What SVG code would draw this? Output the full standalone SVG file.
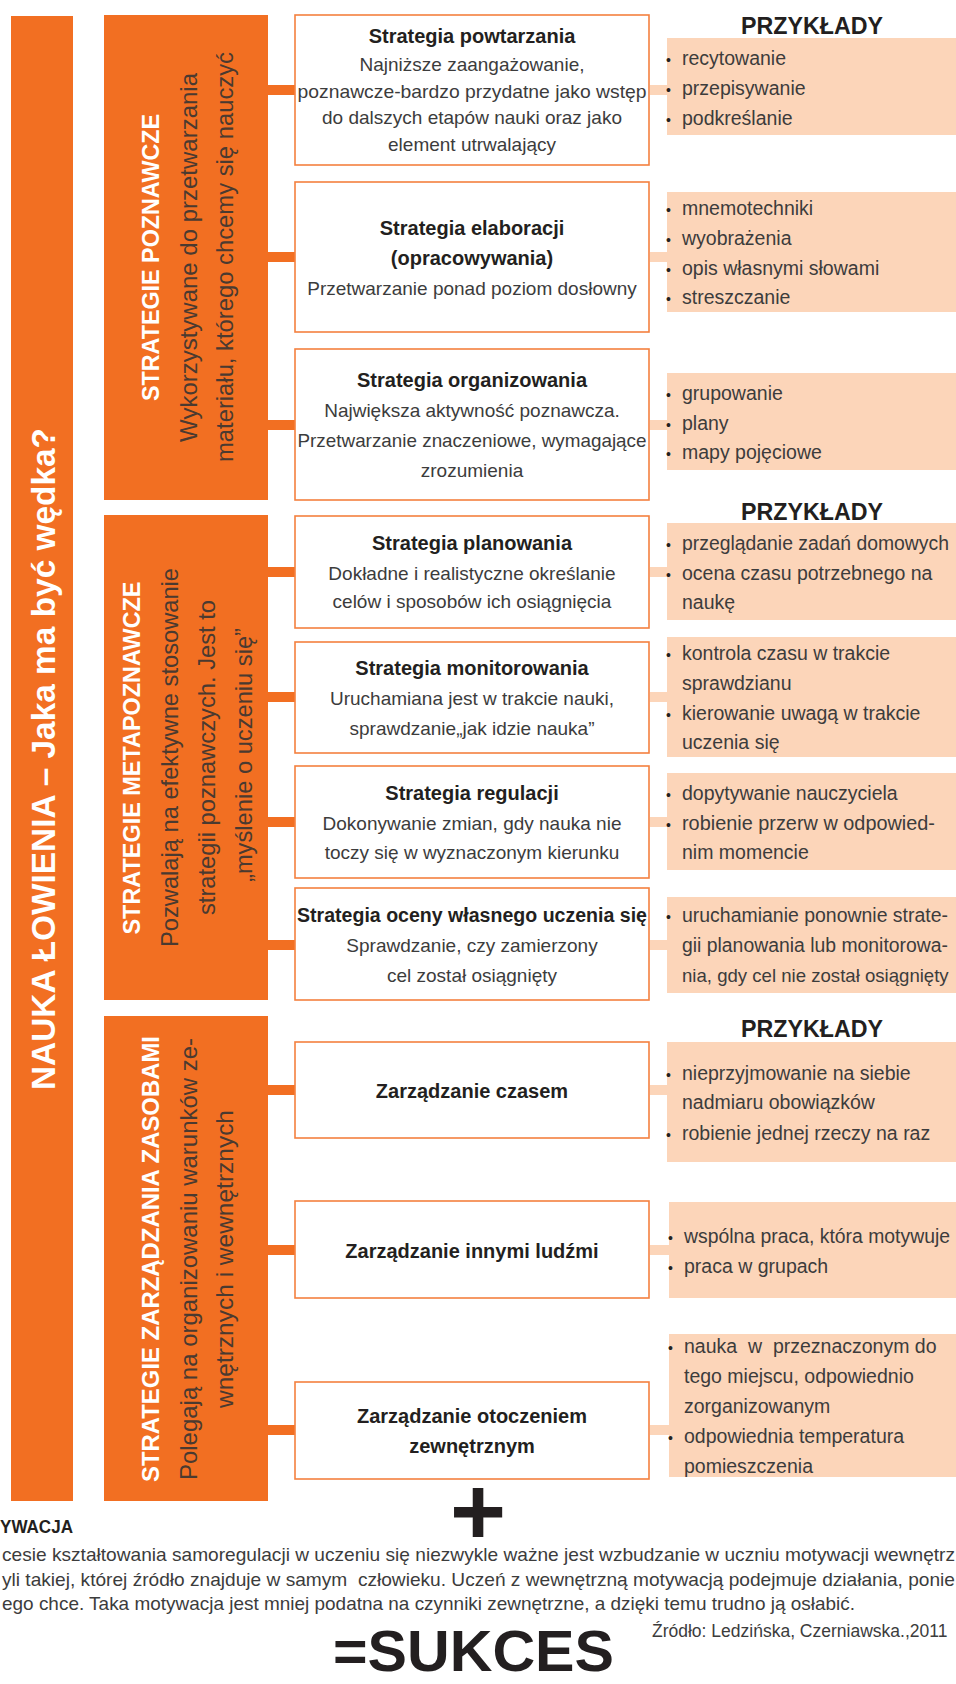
<svg xmlns="http://www.w3.org/2000/svg" width="956" height="1684" viewBox="0 0 956 1684">
<style>
text{font-family:"Liberation Sans",Arial,sans-serif}
.cat{fill:#F26F22}
.node rect{fill:#fff;stroke:#F4803F;stroke-width:1.6}
.ex{fill:#FCD5B9}
.dk{fill:#F26F22}
.lt{fill:#FCD5B9}
.t{font-weight:bold;font-size:20px;fill:#231F20;text-anchor:middle}
.b{font-size:19px;fill:#3C3C3C;text-anchor:middle}
.e{font-size:19.5px;fill:#3C3C3C}
.bl{font-size:14px;fill:#231F20}
.h{font-weight:bold;font-size:23px;fill:#231F20;text-anchor:middle}
.ct{font-weight:bold;font-size:24px;fill:#fff;text-anchor:middle}
.cs{font-size:24px;fill:#4A3A30;text-anchor:middle}
.p{font-size:19px;fill:#3C3C3C}
</style>

<g id="main-title">
<rect class="cat" x="11" y="16" width="62" height="1485"/>
<text transform="translate(55,759) rotate(-90)" text-anchor="middle" font-weight="bold" font-size="33" fill="#fff" textLength="662" lengthAdjust="spacingAndGlyphs">NAUKA ŁOWIENIA – Jaka ma być wędka?</text>
</g>

<g id="cat-poznawcze">
<rect class="cat" x="104" y="15" width="164" height="485"/>
<text class="ct" transform="translate(159,257.5) rotate(-90)" textLength="287" lengthAdjust="spacingAndGlyphs">STRATEGIE POZNAWCZE</text>
<text class="cs" transform="translate(197,257.5) rotate(-90)" textLength="369" lengthAdjust="spacingAndGlyphs">Wykorzystywane do przetwarzania</text>
<text class="cs" transform="translate(233,257) rotate(-90)" textLength="410" lengthAdjust="spacingAndGlyphs">materiału, którego chcemy się nauczyć</text>
</g>

<g id="cat-metapoznawcze">
<rect class="cat" x="104" y="515" width="164" height="485"/>
<text class="ct" transform="translate(140,758) rotate(-90)" textLength="353" lengthAdjust="spacingAndGlyphs">STRATEGIE METAPOZNAWCZE</text>
<text class="cs" transform="translate(178,757.5) rotate(-90)" textLength="379" lengthAdjust="spacingAndGlyphs">Pozwalają na efektywne stosowanie</text>
<text class="cs" transform="translate(215,757.5) rotate(-90)" textLength="315" lengthAdjust="spacingAndGlyphs">strategii poznawczych. Jest to</text>
<text class="cs" transform="translate(252,755) rotate(-90)" textLength="254" lengthAdjust="spacingAndGlyphs">„myślenie o uczeniu się”</text>
</g>

<g id="cat-zasoby">
<rect class="cat" x="104" y="1016" width="164" height="485"/>
<text class="ct" transform="translate(159,1259) rotate(-90)" textLength="446" lengthAdjust="spacingAndGlyphs">STRATEGIE ZARZĄDZANIA ZASOBAMI</text>
<text class="cs" transform="translate(197,1259) rotate(-90)" textLength="442" lengthAdjust="spacingAndGlyphs">Polegają na organizowaniu warunków ze-</text>
<text class="cs" transform="translate(233,1259) rotate(-90)" textLength="298" lengthAdjust="spacingAndGlyphs">wnętrznych i wewnętrznych</text>
</g>

<g id="connectors">
<rect class="dk" x="268" y="85" width="27" height="10"/>
<rect class="dk" x="268" y="252" width="27" height="10"/>
<rect class="dk" x="268" y="420" width="27" height="10"/>
<rect class="dk" x="268" y="567" width="27" height="10"/>
<rect class="dk" x="268" y="692" width="27" height="10"/>
<rect class="dk" x="268" y="817" width="27" height="10"/>
<rect class="dk" x="268" y="940" width="27" height="10"/>
<rect class="dk" x="268" y="1085" width="27" height="10"/>
<rect class="dk" x="268" y="1245" width="27" height="10"/>
<rect class="dk" x="268" y="1425" width="27" height="10"/>
<rect class="lt" x="650" y="85" width="17" height="10"/>
<rect class="lt" x="650" y="252" width="17" height="10"/>
<rect class="lt" x="650" y="420" width="17" height="10"/>
<rect class="lt" x="650" y="567" width="17" height="10"/>
<rect class="lt" x="650" y="692" width="17" height="10"/>
<rect class="lt" x="650" y="817" width="17" height="10"/>
<rect class="lt" x="650" y="940" width="17" height="10"/>
<rect class="lt" x="650" y="1085" width="17" height="10"/>
<rect class="lt" x="650" y="1245" width="19" height="10"/>
<rect class="lt" x="650" y="1425" width="19" height="10"/>
</g>

<g id="node-powtarzania" class="node">
<rect x="295" y="15" width="354" height="150"/>
<text class="t" x="472" y="43">Strategia powtarzania</text>
<text class="b" x="472" y="71">Najniższe zaangażowanie,</text>
<text class="b" x="472" y="98" textLength="349" lengthAdjust="spacingAndGlyphs">poznawcze-bardzo przydatne jako wstęp</text>
<text class="b" x="472" y="124">do dalszych etapów nauki oraz jako</text>
<text class="b" x="472" y="151">element utrwalający</text>
</g>

<g id="node-elaboracji" class="node">
<rect x="295" y="182" width="354" height="150"/>
<text class="t" x="472" y="235">Strategia elaboracji</text>
<text class="t" x="472" y="265">(opracowywania)</text>
<text class="b" x="472" y="295">Przetwarzanie ponad poziom dosłowny</text>
</g>

<g id="node-organizowania" class="node">
<rect x="295" y="349" width="354" height="151"/>
<text class="t" x="472" y="387">Strategia organizowania</text>
<text class="b" x="472" y="417">Największa aktywność poznawcza.</text>
<text class="b" x="472" y="447" textLength="349" lengthAdjust="spacingAndGlyphs">Przetwarzanie znaczeniowe, wymagające</text>
<text class="b" x="472" y="477">zrozumienia</text>
</g>

<g id="node-planowania" class="node">
<rect x="295" y="516" width="354" height="112"/>
<text class="t" x="472" y="550">Strategia planowania</text>
<text class="b" x="472" y="580">Dokładne i realistyczne określanie</text>
<text class="b" x="472" y="608">celów i sposobów ich osiągnięcia</text>
</g>

<g id="node-monitorowania" class="node">
<rect x="295" y="642" width="354" height="111"/>
<text class="t" x="472" y="675">Strategia monitorowania</text>
<text class="b" x="472" y="705">Uruchamiana jest w trakcie nauki,</text>
<text class="b" x="472" y="735">sprawdzanie„jak idzie nauka”</text>
</g>

<g id="node-regulacji" class="node">
<rect x="295" y="766" width="354" height="112"/>
<text class="t" x="472" y="800">Strategia regulacji</text>
<text class="b" x="472" y="830">Dokonywanie zmian, gdy nauka nie</text>
<text class="b" x="472" y="859">toczy się w wyznaczonym kierunku</text>
</g>

<g id="node-oceny" class="node">
<rect x="295" y="888" width="354" height="112"/>
<text class="t" x="472" y="922" textLength="350" lengthAdjust="spacingAndGlyphs">Strategia oceny własnego uczenia się</text>
<text class="b" x="472" y="952">Sprawdzanie, czy zamierzony</text>
<text class="b" x="472" y="982">cel został osiągnięty</text>
</g>

<g id="node-czas" class="node">
<rect x="295" y="1042" width="354" height="96"/>
<text class="t" x="472" y="1098">Zarządzanie czasem</text>
</g>

<g id="node-ludzie" class="node">
<rect x="295" y="1201" width="354" height="97"/>
<text class="t" x="472" y="1258">Zarządzanie innymi ludźmi</text>
</g>

<g id="node-otoczenie" class="node">
<rect x="295" y="1382" width="354" height="97"/>
<text class="t" x="472" y="1423">Zarządzanie otoczeniem</text>
<text class="t" x="472" y="1453">zewnętrznym</text>
</g>

<g id="headers">
<text class="h" x="812" y="34" textLength="142" lengthAdjust="spacingAndGlyphs">PRZYKŁADY</text>
<text class="h" x="812" y="520" textLength="142" lengthAdjust="spacingAndGlyphs">PRZYKŁADY</text>
<text class="h" x="812" y="1037" textLength="142" lengthAdjust="spacingAndGlyphs">PRZYKŁADY</text>
</g>

<g id="ex-powtarzania">
<rect class="ex" x="667" y="38" width="289" height="97"/>
<text class="bl" x="666" y="65">•</text><text class="e" x="682" y="65">recytowanie</text>
<text class="bl" x="666" y="95">•</text><text class="e" x="682" y="95">przepisywanie</text>
<text class="bl" x="666" y="125">•</text><text class="e" x="682" y="125">podkreślanie</text>
</g>

<g id="ex-elaboracji">
<rect class="ex" x="667" y="192" width="289" height="120"/>
<text class="bl" x="666" y="215">•</text><text class="e" x="682" y="215">mnemotechniki</text>
<text class="bl" x="666" y="245">•</text><text class="e" x="682" y="245">wyobrażenia</text>
<text class="bl" x="666" y="275">•</text><text class="e" x="682" y="275">opis własnymi słowami</text>
<text class="bl" x="666" y="304">•</text><text class="e" x="682" y="304">streszczanie</text>
</g>

<g id="ex-organizowania">
<rect class="ex" x="667" y="373" width="289" height="97"/>
<text class="bl" x="666" y="400">•</text><text class="e" x="682" y="400">grupowanie</text>
<text class="bl" x="666" y="430">•</text><text class="e" x="682" y="430">plany</text>
<text class="bl" x="666" y="459">•</text><text class="e" x="682" y="459">mapy pojęciowe</text>
</g>

<g id="ex-planowania">
<rect class="ex" x="667" y="523" width="289" height="97"/>
<text class="bl" x="666" y="550">•</text><text class="e" x="682" y="550" textLength="267" lengthAdjust="spacingAndGlyphs">przeglądanie zadań domowych</text>
<text class="bl" x="666" y="580">•</text><text class="e" x="682" y="580">ocena czasu potrzebnego na</text>
<text class="e" x="682" y="609">naukę</text>
</g>

<g id="ex-monitorowania">
<rect class="ex" x="667" y="637" width="289" height="120"/>
<text class="bl" x="666" y="660">•</text><text class="e" x="682" y="660">kontrola czasu w trakcie</text>
<text class="e" x="682" y="690">sprawdzianu</text>
<text class="bl" x="666" y="720">•</text><text class="e" x="682" y="720">kierowanie uwagą w trakcie</text>
<text class="e" x="682" y="749">uczenia się</text>
</g>

<g id="ex-regulacji">
<rect class="ex" x="667" y="773" width="289" height="97"/>
<text class="bl" x="666" y="800">•</text><text class="e" x="682" y="800">dopytywanie nauczyciela</text>
<text class="bl" x="666" y="830">•</text><text class="e" x="682" y="830" textLength="253" lengthAdjust="spacingAndGlyphs">robienie przerw w odpowied-</text>
<text class="e" x="682" y="859">nim momencie</text>
</g>

<g id="ex-oceny">
<rect class="ex" x="667" y="897" width="289" height="96"/>
<text class="bl" x="666" y="922">•</text><text class="e" x="682" y="922" textLength="266" lengthAdjust="spacingAndGlyphs">uruchamianie ponownie strate-</text>
<text class="e" x="682" y="952" textLength="266" lengthAdjust="spacingAndGlyphs">gii planowania lub monitorowa-</text>
<text class="e" x="682" y="982" style="font-size:18.6px">nia, gdy cel nie został osiągnięty</text>
</g>

<g id="ex-czas">
<rect class="ex" x="667" y="1042" width="289" height="120"/>
<text class="bl" x="666" y="1080">•</text><text class="e" x="682" y="1080">nieprzyjmowanie na siebie</text>
<text class="e" x="682" y="1109">nadmiaru obowiązków</text>
<text class="bl" x="666" y="1140">•</text><text class="e" x="682" y="1140">robienie jednej rzeczy na raz</text>
</g>

<g id="ex-ludzie">
<rect class="ex" x="669" y="1202" width="287" height="96"/>
<text class="bl" x="668" y="1243">•</text><text class="e" x="684" y="1243" textLength="266" lengthAdjust="spacingAndGlyphs">wspólna praca, która motywuje</text>
<text class="bl" x="668" y="1273">•</text><text class="e" x="684" y="1273">praca w grupach</text>
</g>

<g id="ex-otoczenie">
<rect class="ex" x="669" y="1334" width="287" height="143"/>
<text class="bl" x="668" y="1353">•</text><text class="e" x="684" y="1353" xml:space="preserve">nauka  w  przeznaczonym do</text>
<text class="e" x="684" y="1383">tego miejscu, odpowiednio</text>
<text class="e" x="684" y="1413">zorganizowanym</text>
<text class="bl" x="668" y="1443">•</text><text class="e" x="684" y="1443">odpowiednia temperatura</text>
<text class="e" x="684" y="1473">pomieszczenia</text>
</g>

<g id="footer">
<text x="478" y="1545" text-anchor="middle" font-weight="bold" font-size="96" fill="#231F20">+</text>
<text x="0" y="1533" font-weight="bold" font-size="19" fill="#231F20" textLength="73" lengthAdjust="spacingAndGlyphs">YWACJA</text>
<text class="p" x="2" y="1561" textLength="953" lengthAdjust="spacingAndGlyphs">cesie kształtowania samoregulacji w uczeniu się niezwykle ważne jest wzbudzanie w uczniu motywacji wewnętrz</text>
<text class="p" x="2" y="1586" xml:space="preserve" textLength="953" lengthAdjust="spacingAndGlyphs">yli takiej, której źródło znajduje w samym  człowieku. Uczeń z wewnętrzną motywacją podejmuje działania, ponie</text>
<text class="p" x="2" y="1610" textLength="853" lengthAdjust="spacingAndGlyphs">ego chce. Taka motywacja jest mniej podatna na czynniki zewnętrzne, a dzięki temu trudno ją osłabić.</text>
<text class="p" x="652" y="1637" style="font-size:17.5px">Źródło: Ledzińska, Czerniawska.,2011</text>
<text x="333" y="1671" font-weight="bold" font-size="58" fill="#231F20" textLength="281" lengthAdjust="spacingAndGlyphs">=SUKCES</text>
</g>
</svg>
